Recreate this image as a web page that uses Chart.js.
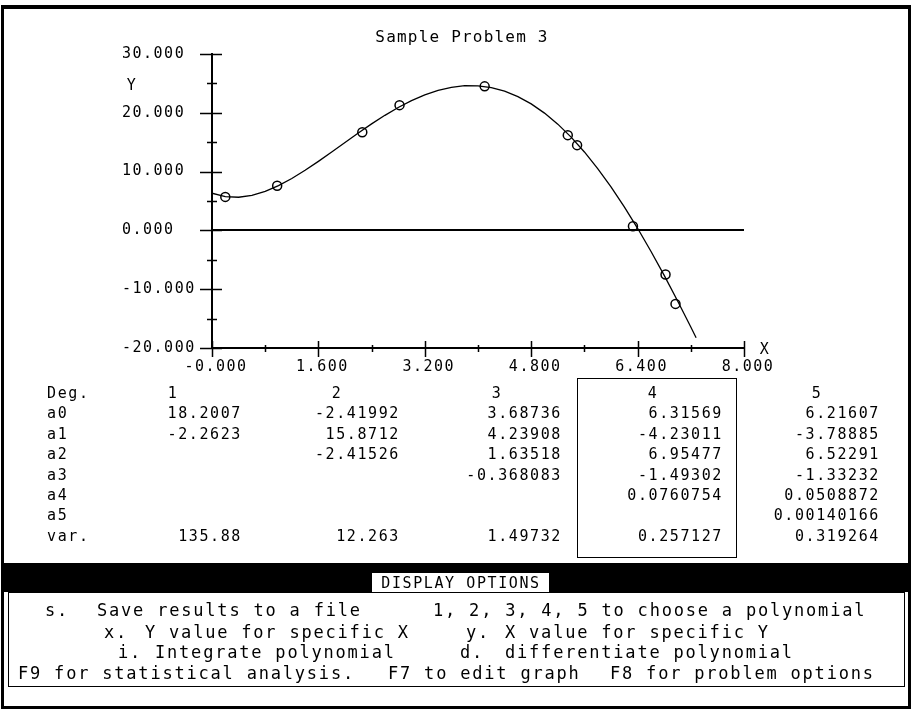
<!DOCTYPE html>
<html>
<head>
<meta charset="utf-8">
<script src="https://cdn.jsdelivr.net/npm/chart.js@4.4.0/dist/chart.umd.min.js"></script>
<style>
  body { margin:0; width:913px; height:710px; overflow:hidden; position:relative; background:#fff; color:#000;
         font-family:"DejaVu Sans Mono", monospace; }
  #plot { position:absolute; left:0; top:0; }
  #frame { position:absolute; left:1px; top:5px; width:904px; height:697px; border:3px solid #000; border-top-width:4px; pointer-events:none; }
  .t { position:absolute; white-space:pre; line-height:1; font-size:15px; letter-spacing:1.6px; }
  .big { font-size:17px; letter-spacing:1.8px; }
  .head { font-size:16px; letter-spacing:1.2px; }
  #hl { position:absolute; left:577px; top:378px; width:158px; height:178px; border:1.5px solid #000; }
  #band { position:absolute; left:4px; top:563px; width:905px; height:29px; background:#000; }
  #bandLabel { position:absolute; left:372px; top:573px; width:177px; height:20px; background:#fff; }
  #menu { position:absolute; left:8px; top:592px; width:895px; height:93px; border:1.5px solid #000; }
</style>
</head>
<body>
<canvas id="plot" width="913" height="380"></canvas>
<div id="hl"></div>
<div id="band"></div>
<div id="bandLabel"></div>
<div id="menu"></div>
<div id="frame"></div>

<script>
/* ---------- data ---------- */
const title = "Sample Problem 3";

// measured points
const pointX = [0.20, 0.98, 2.26, 2.82, 4.10, 5.35, 5.49, 6.33, 6.82, 6.97];
const pointY = [5.7, 7.6, 16.7, 21.3, 24.5, 16.2, 14.5, 0.7, -7.5, -12.5];

// fitted curve (degree 4)
const curveX = [0,0.2,0.4,0.6,0.8,1,1.2,1.4,1.6,1.8,2,2.2,2.4,2.6,2.8,3,3.2,3.4,3.6,3.8,
                4,4.2,4.4,4.6,4.8,5,5.2,5.4,5.6,5.8,6,6.2,6.4,6.6,6.8,7,7.2,7.28];
const curveY = [6.32,5.74,5.64,5.97,6.65,7.62,8.83,10.22,11.74,13.33,14.95,16.56,18.11,19.57,20.90,22.07,23.05,23.82,24.34,24.61,
                24.59,24.29,23.68,22.76,21.52,19.95,18.07,15.86,13.34,10.52,7.41,4.01,0.36,-3.54,-7.65,-11.96,-16.43,-18.25];

// axes
const xTickValues = [0,0.8,1.6,2.4,3.2,4.0,4.8,5.6,6.4,7.2,8.0];
const xTickLabels = ["-0.000","","1.600","","3.200","","4.800","","6.400","","8.000"];
const yTickValues = [-20,-15,-10,-5,0,5,10,15,20,25,30];
const yTickLabels = ["-20.000","","-10.000","","0.000","","10.000","","20.000","","30.000"];

// coefficient table
const degHeaders = ["1","2","3","4","5"];
const rowNames = ["a0","a1","a2","a3","a4","a5"];
const coefDeg1 = ["18.2007","-2.2623"];
const coefDeg2 = ["-2.41992","15.8712","-2.41526"];
const coefDeg3 = ["3.68736","4.23908","1.63518","-0.368083"];
const coefDeg4 = ["6.31569","-4.23011","6.95477","-1.49302","0.0760754"];
const coefDeg5 = ["6.21607","-3.78885","6.52291","-1.33232","0.0508872","0.00140166"];
const variances = ["135.88","12.263","1.49732","0.257127","0.319264"];

// menu
const menuTitle = "DISPLAY OPTIONS";
const menuLines = [
  [["s.",45],["Save results to a file",97],["1, 2, 3, 4, 5 to choose a polynomial",433]],
  [["x.",104],["Y value for specific X",145],["y.",466],["X value for specific Y",505]],
  [["i.",118],["Integrate polynomial",155],["d.",460],["differentiate polynomial",505]],
  [["F9 for statistical analysis.",18],["F7 to edit graph",388],["F8 for problem options",610]]
];

/* ---------- text helper ---------- */
function put(text, x, y, align, cls){
  const d = document.createElement("div");
  d.className = "t" + (cls ? " " + cls : "");
  d.textContent = text;
  d.style.left = x + "px";
  d.style.top = y + "px";
  const tx = align === "right" ? "-100%" : align === "center" ? "-50%" : "0";
  d.style.transform = `translate(${tx},-50%)`;
  document.body.appendChild(d);
  return d;
}

put(title, 462, 37, "center", "head");

/* ---------- table ---------- */
const colRight = [242, 400, 562, 723, 880];
const headCenter = [173, 337, 497, 653, 817];
const rowY0 = 393, rowStep = 20.4;
const coefCols = [coefDeg1, coefDeg2, coefDeg3, coefDeg4, coefDeg5];

put("Deg.", 47, rowY0, "left");
rowNames.forEach((n,i)=> put(n, 47, rowY0 + rowStep*(i+1), "left"));
put("var.", 47, rowY0 + rowStep*7, "left");

degHeaders.forEach((h,c)=>{
  put(h, headCenter[c], rowY0, "center");
  coefCols[c].forEach((v,i)=> put(v, colRight[c], rowY0 + rowStep*(i+1), "right"));
  put(variances[c], colRight[c], rowY0 + rowStep*7, "right");
});

/* ---------- menu ---------- */
put(menuTitle, 461, 583, "center");
const menuY = [610, 632, 652, 673];
menuLines.forEach((line,i)=>{
  line.forEach(([txt,x])=> put(txt, x, menuY[i], "left", "big"));
});

/* ---------- chart ---------- */
const FONT = { family: "DejaVu Sans Mono", size: 15, weight: "normal" };

// crossing tick marks + axis letters
const axisMarks = {
  id: "axisMarks",
  beforeDraw(chart){ chart.ctx.letterSpacing = "1.5px"; },
  afterDraw(chart){
    const {ctx, scales:{x, y}} = chart;
    const x0 = x.left, y0 = y.bottom;
    ctx.save();
    ctx.strokeStyle = "#000";
    ctx.lineWidth = 1.5;
    ctx.beginPath();
    y.ticks.forEach((t,i)=>{
      const py = Math.round(y.getPixelForValue(t.value)) + 0.5;
      const major = yTickLabels[i] !== "";
      ctx.moveTo(x0 - (major ? 12 : 5), py);
      ctx.lineTo(x0 + (major ? 10 : 5), py);
    });
    x.ticks.forEach((t,i)=>{
      const px = Math.round(x.getPixelForValue(t.value)) + 0.5;
      const major = xTickLabels[i] !== "";
      ctx.moveTo(px, y0 - (major ? 7 : 3));
      ctx.lineTo(px, y0 + (major ? 9 : 4));
    });
    ctx.stroke();

    ctx.fillStyle = "#000";
    ctx.font = "15px 'DejaVu Sans Mono'";
    ctx.textAlign = "center";
    ctx.textBaseline = "middle";
    ctx.fillText("Y", y.left + 10, y.getPixelForValue(24.5));
    ctx.fillText("X", x.right + 21, y0 + 2);
    ctx.restore();
  }
};

new Chart(document.getElementById("plot"), {
  type: "scatter",
  data: {
    datasets: [
      {
        type: "line",
        data: curveX.map((v,i)=>({x:v, y:curveY[i]})),
        borderColor: "#000",
        borderWidth: 1.3,
        pointRadius: 0,
        tension: 0,
        fill: false
      },
      {
        data: pointX.map((v,i)=>({x:v, y:pointY[i]})),
        pointStyle: "circle",
        pointRadius: 4.5,
        borderColor: "#000",
        borderWidth: 1.5,
        backgroundColor: "rgba(0,0,0,0)",
        showLine: false
      }
    ]
  },
  options: {
    responsive: false,
    animation: false,
    events: [],
    layout: { padding: { left: 122, right: 169, top: 54, bottom: 0 } },
    plugins: { legend: { display: false }, tooltip: { enabled: false }, title: { display: false } },
    scales: {
      x: {
        type: "linear", min: 0, max: 8,
        afterBuildTicks: s => { s.ticks = xTickValues.map(v=>({value:v})); },
        afterFit: s => { s.height = 32; },
        ticks: { autoSkip:false, maxRotation:0, color:"#000", font:FONT, padding:10, labelOffset:4,
                 callback: (v,i)=> xTickLabels[i] },
        grid: { drawTicks:false, color:"rgba(0,0,0,0)" },
        border: { display:true, color:"#000", width:2 }
      },
      y: {
        type: "linear", min: -20, max: 30,
        afterBuildTicks: s => { s.ticks = yTickValues.map(v=>({value:v})); },
        afterFit: s => { s.width = 90; },
        ticks: { autoSkip:false, color:"#000", font:FONT, crossAlign:"far", padding:0,
                 callback: (v,i)=> yTickLabels[i] },
        grid: { drawTicks:false, lineWidth:2,
                color: c => (c.tick && c.tick.value === 0) ? "#000" : "rgba(0,0,0,0)" },
        border: { display:true, color:"#000", width:2 }
      }
    }
  },
  plugins: [axisMarks]
});
</script>
</body>
</html>
